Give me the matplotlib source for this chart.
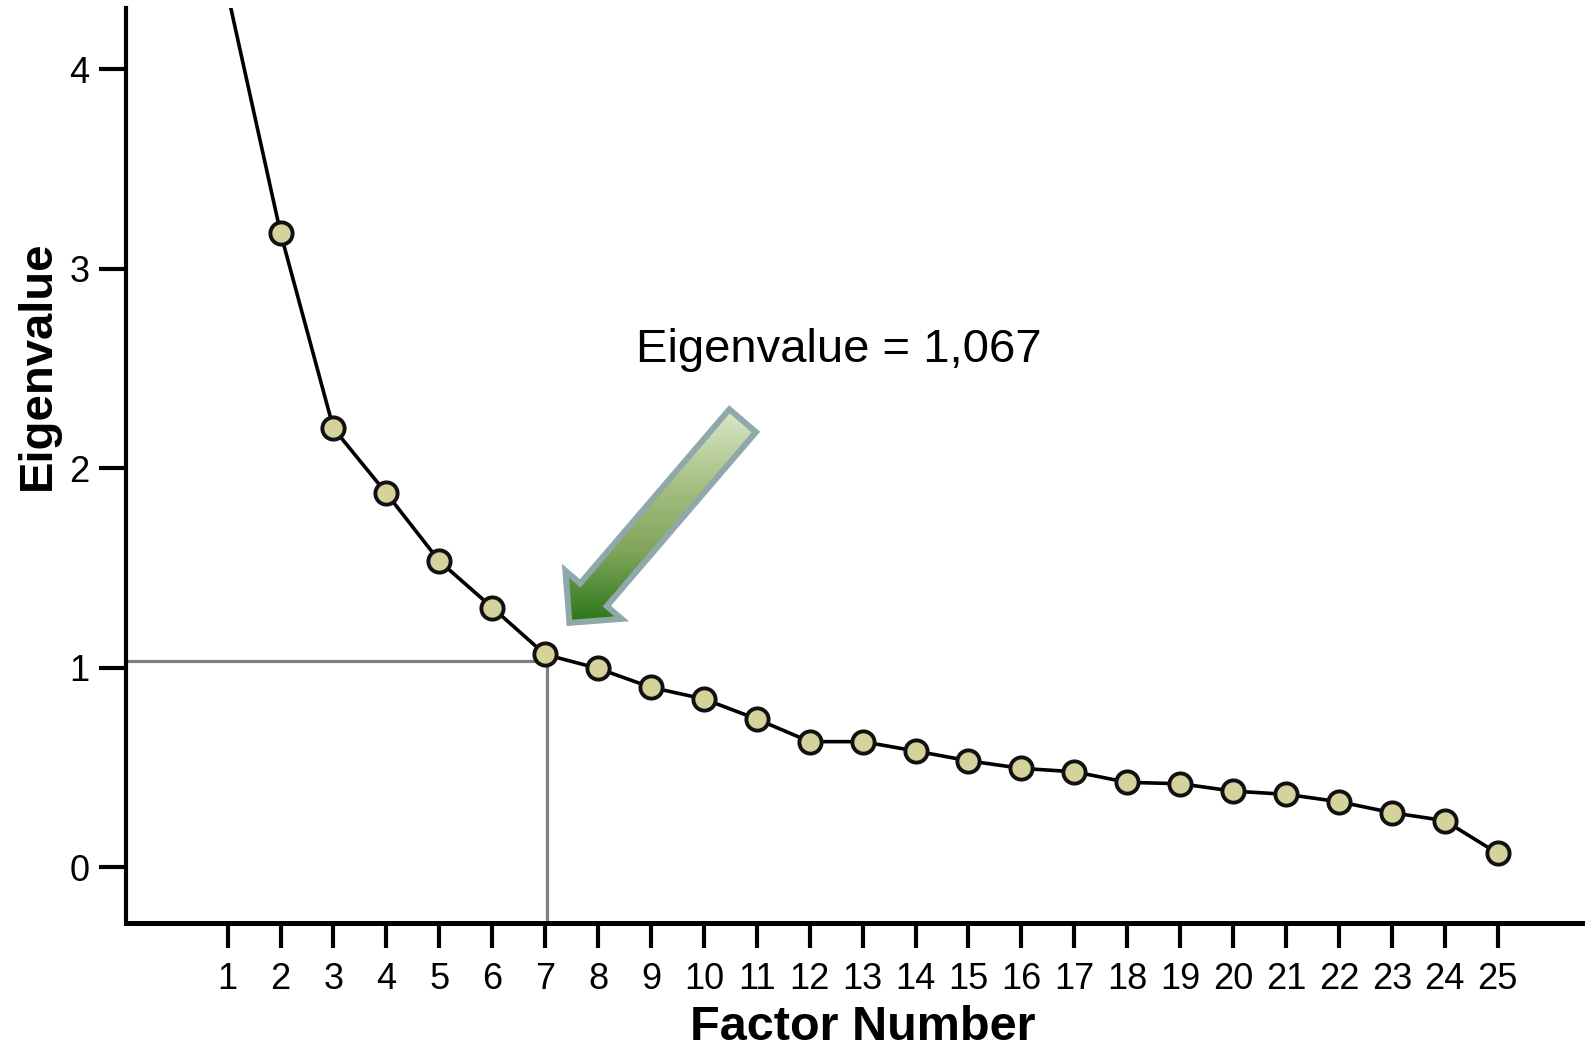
import numpy as np
import matplotlib
matplotlib.use('Agg')
import matplotlib.pyplot as plt
from matplotlib.patches import Polygon
from matplotlib.transforms import IdentityTransform
from matplotlib.colors import LinearSegmentedColormap

plt.rcParams['font.family'] = ['Liberation Sans', 'DejaVu Sans']

# Scree plot values
factors = list(range(1, 26))
eigenvalues = [4.38, 3.18, 2.20, 1.875, 1.535, 1.302, 1.067, 0.997, 0.902, 0.844,
               0.743, 0.630, 0.630, 0.583, 0.534, 0.496, 0.479, 0.426, 0.419, 0.382,
               0.366, 0.329, 0.274, 0.234, 0.070]
y_ticks = [0, 1, 2, 3, 4]
cutoff_factor = 7.03
cutoff_value = 1.036
note_text = 'Eigenvalue = 1,067'

fig = plt.figure(figsize=(15.85, 10.52), dpi=100)
ax = fig.add_axes([126 / 1585, 129 / 1052, 1 - 126 / 1585, (923 - 8) / 1052])

# Reference lines to the cutoff point
ax.hlines(cutoff_value, -0.92, cutoff_factor, color='#808080', lw=2.3, zorder=2)
ax.vlines(cutoff_factor, -0.28, cutoff_value, color='#808080', lw=2.3, zorder=2)

# Scree line
ax.plot(factors, eigenvalues, color='black', lw=2.6, marker='o', markersize=16,
        markerfacecolor='#D6D29B', markeredgecolor='#111111', markeredgewidth=2.8, zorder=3)

ax.set_xlim(-0.92, 26.65)
ax.set_ylim(-0.279, 4.307)

ax.set_xticks(factors)
ax.set_xticklabels([str(f) for f in factors])
ax.set_yticks(y_ticks)
ax.set_yticklabels([str(t) for t in y_ticks])

for side in ['top', 'right']:
    ax.spines[side].set_visible(False)
ax.spines['left'].set_linewidth(3)
ax.spines['bottom'].set_linewidth(3.6)
ax.tick_params(axis='x', length=18, width=3, pad=10, labelsize=26)
ax.tick_params(axis='y', length=19.5, width=3, pad=7, labelsize=26)

# Annotation text
ax.text(12.55, 2.534, note_text, fontsize=34, ha='center', va='baseline', zorder=6)

# Axis titles
fig.text(37.4 / 1585, 1 - 365 / 1052, 'Eigenvalue', rotation=90, fontsize=34,
         fontweight='bold', ha='center', va='center')
fig.text(863 / 1585, 12 / 1052, 'Factor Number', fontsize=35, fontweight='bold',
         ha='center', va='baseline')

# Block arrow with vertical green gradient, built in pixel space
tip = ax.transData.transform((7.41, 1.21))
tail = ax.transData.transform((10.77, 2.25))
d = tip - tail
u = d / np.hypot(*d)
n = np.array([-u[1], u[0]])
tip_in = tip - u * 4
tail_in = tail + u * 3
shaft_hw, head_hw, head_len = 17.5, 37, 37
base = tip_in - u * head_len
pts = np.array([tail_in + n * shaft_hw, base + n * shaft_hw, base + n * head_hw, tip_in,
                base - n * head_hw, base - n * shaft_hw, tail_in - n * shaft_hw])

clip_poly = Polygon(pts, closed=True, transform=IdentityTransform(), facecolor='none',
                    edgecolor='none')
x0, y0 = np.floor(pts.min(axis=0)).astype(int) - 2
x1, y1 = np.ceil(pts.max(axis=0)).astype(int) + 2
h, w = y1 - y0, x1 - x0
cmap = LinearSegmentedColormap.from_list('arr', ['#DDE8CD', '#A9C285', '#7FA45A', '#2A7518'])
grad = cmap(np.linspace(0, 1, h))[:, :3]
img = np.repeat(grad[:, None, :], w, axis=1)
im = fig.figimage(img, xo=x0, yo=y0, origin='upper', zorder=4)
im.set_clip_path(clip_poly)

edge = Polygon(pts, closed=True, transform=IdentityTransform(), facecolor='none',
               edgecolor='#8FA9AB', lw=4.3, joinstyle='miter', zorder=5)
fig.add_artist(edge)

fig.savefig('out.png', dpi=100)
